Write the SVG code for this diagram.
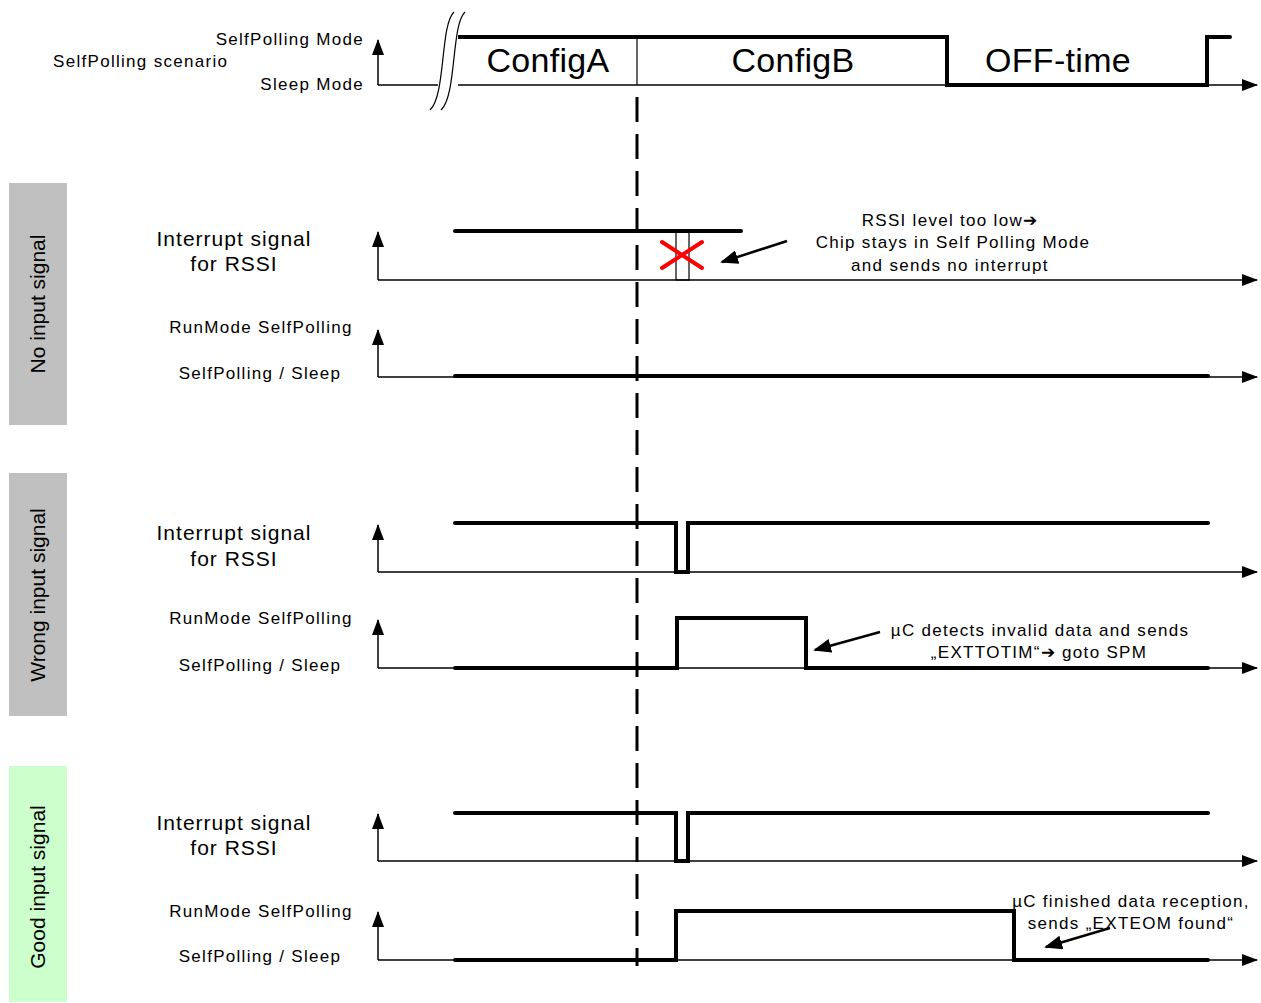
<svg xmlns="http://www.w3.org/2000/svg" width="1261" height="1003" viewBox="0 0 1261 1003">
<defs>
<marker id="ah" markerWidth="16" markerHeight="12" refX="15" refY="6" orient="auto" markerUnits="userSpaceOnUse"><path d="M0,0 L16,6 L0,12 Z" fill="#000"/></marker>
<marker id="ah2" markerWidth="18" markerHeight="14" refX="16" refY="7" orient="auto" markerUnits="userSpaceOnUse"><path d="M0,0 L18,7 L0,14 Z" fill="#000"/></marker>
</defs>
<style>
text{font-family:"Liberation Sans",Arial,sans-serif;fill:#000}
.lbl{font-size:17px;letter-spacing:1.3px}
.big{font-size:21px;letter-spacing:1px}
.cfg{font-size:34px;letter-spacing:0.3px}
.side{font-size:21px}
.axis{fill:none;stroke:#000;stroke-width:1.5}
.sig{fill:none;stroke:#000;stroke-width:4;stroke-linejoin:miter;stroke-linecap:round}
.thin{fill:none;stroke:#000;stroke-width:1.2}
.ann{fill:none;stroke:#000;stroke-width:2.5}
</style>
<rect width="1261" height="1003" fill="#fff"/>

<g id="scenario">
<text class="lbl" x="364" y="45" text-anchor="end">SelfPolling Mode</text>
<text class="lbl" x="53" y="67">SelfPolling scenario</text>
<text class="lbl" x="364" y="90" text-anchor="end">Sleep Mode</text>
<path class="axis" d="M378,85 V40" marker-end="url(#ah)"/>
<path class="axis" d="M378,85 H1257" marker-end="url(#ah)"/>
<path class="sig" d="M455,37 H947 V85 H1207 V37 H1230"/>
<path class="thin" d="M637,37 V85"/>
<path class="thin" d="M455,37 V85"/>
<rect x="438" y="10" width="20" height="100" fill="#fff"/>
<path class="thin" d="M454,12 C440,25 446,95 430,110"/>
<path class="thin" d="M465,12 C451,25 457,95 441,110"/>
<text class="cfg" x="548" y="72" text-anchor="middle">ConfigA</text>
<text class="cfg" x="793" y="72" text-anchor="middle">ConfigB</text>
<text class="cfg" x="1058" y="72" text-anchor="middle">OFF-time</text>
</g>

<g id="divider">
<path d="M637,97 V966" stroke="#000" stroke-width="3" stroke-dasharray="25,12" fill="none"/>
</g>

<g id="no-input">
<rect x="9" y="183" width="58" height="242" fill="#c0c0c0"/>
<text class="side" transform="translate(45,304) rotate(-90)" text-anchor="middle">No input signal</text>
<text class="big" x="234" y="246" text-anchor="middle">Interrupt signal</text>
<text class="big" x="234" y="271" text-anchor="middle">for RSSI</text>
<path class="axis" d="M378,280 V232" marker-end="url(#ah)"/>
<path class="axis" d="M378,280 H1257" marker-end="url(#ah)"/>
<path class="sig" d="M455,231 H741"/>
<rect x="676" y="231" width="13" height="49" class="thin"/>
<path d="M662,242 L702,268 M662,268 L702,242" stroke="#ff0000" stroke-width="4" stroke-linecap="round"/>
<text class="lbl" x="950" y="226" text-anchor="middle">RSSI level too low➔</text>
<text class="lbl" x="953" y="248" text-anchor="middle">Chip stays in Self Polling Mode</text>
<text class="lbl" x="950" y="271" text-anchor="middle">and sends no interrupt</text>
<text class="lbl" x="261" y="333" text-anchor="middle">RunMode SelfPolling</text>
<text class="lbl" x="260" y="379" text-anchor="middle">SelfPolling  / Sleep</text>
<path class="axis" d="M378,377 V330" marker-end="url(#ah)"/>
<path class="axis" d="M378,377 H1257" marker-end="url(#ah)"/>
<path class="sig" d="M455,376 H1208"/>
</g>

<g id="wrong-input">
<rect x="9" y="473" width="58" height="243" fill="#c0c0c0"/>
<text class="side" transform="translate(45,595) rotate(-90)" text-anchor="middle">Wrong input signal</text>
<text class="big" x="234" y="540" text-anchor="middle">Interrupt signal</text>
<text class="big" x="234" y="566" text-anchor="middle">for RSSI</text>
<path class="axis" d="M378,572 V525" marker-end="url(#ah)"/>
<path class="axis" d="M378,572 H1257" marker-end="url(#ah)"/>
<path class="sig" d="M455,523 H676 V572 H688 V523 H1208"/>
<text class="lbl" x="261" y="624" text-anchor="middle">RunMode SelfPolling</text>
<text class="lbl" x="260" y="671" text-anchor="middle">SelfPolling  / Sleep</text>
<path class="axis" d="M378,668 V620" marker-end="url(#ah)"/>
<path class="axis" d="M378,668 H1257" marker-end="url(#ah)"/>
<path class="sig" d="M455,668 H677 V618 H806 V668 H1208"/>
<text class="lbl" x="1040" y="636" text-anchor="middle">µC detects invalid data and sends</text>
<text class="lbl" x="1039" y="658" text-anchor="middle">„EXTTOTIM“➔ goto SPM</text>
</g>

<g id="good-input">
<rect x="9" y="766" width="58" height="236" fill="#ccffcc"/>
<text class="side" transform="translate(45,887) rotate(-90)" text-anchor="middle">Good input signal</text>
<text class="big" x="234" y="830" text-anchor="middle">Interrupt signal</text>
<text class="big" x="234" y="855" text-anchor="middle">for RSSI</text>
<path class="axis" d="M378,861 V814" marker-end="url(#ah)"/>
<path class="axis" d="M378,861 H1257" marker-end="url(#ah)"/>
<path class="sig" d="M455,813 H676 V861 H688 V813 H1208"/>
<text class="lbl" x="261" y="917" text-anchor="middle">RunMode SelfPolling</text>
<text class="lbl" x="260" y="962" text-anchor="middle">SelfPolling  / Sleep</text>
<path class="axis" d="M378,960 V912" marker-end="url(#ah)"/>
<path class="axis" d="M378,960 H1257" marker-end="url(#ah)"/>
<path class="sig" d="M455,960 H676 V911 H1014 V960 H1208"/>
<text class="lbl" x="1131" y="907" text-anchor="middle">µC finished data reception,</text>
<text class="lbl" x="1131" y="929" text-anchor="middle">sends „EXTEOM found“</text>
</g>

<g id="connectors">
<path class="ann" d="M787,241 L722,262" marker-end="url(#ah2)"/>
<path class="ann" d="M880,632 L815,650" marker-end="url(#ah2)"/>
<path class="ann" d="M1110,928 L1046,947" marker-end="url(#ah2)"/>
</g>
</svg>
